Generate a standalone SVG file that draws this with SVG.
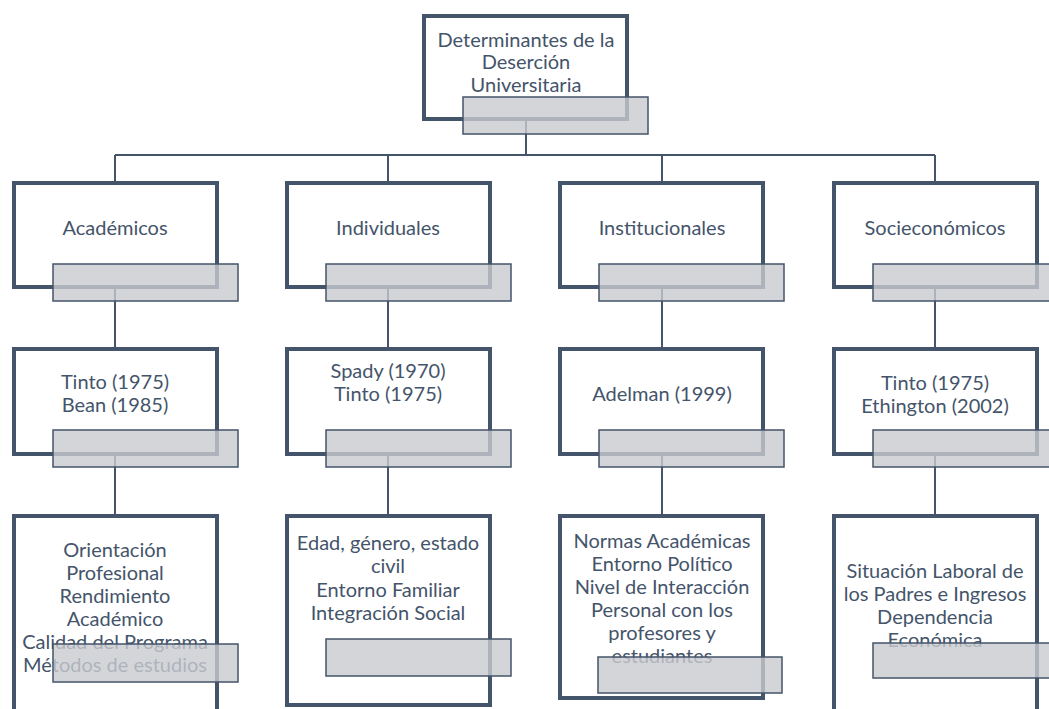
<svg xmlns="http://www.w3.org/2000/svg" width="1049" height="709" viewBox="0 0 1049 709">
<style>
.box{fill:#ffffff;stroke:#44546a;stroke-width:4}
.tab{fill:#c9cbd0;fill-opacity:0.8;stroke:#44546a;stroke-width:1.5}
.con{fill:none;stroke:#44546a;stroke-width:2}
text{font-family:Lato,"Open Sans",sans-serif;font-size:20px;fill:#44546a;text-anchor:middle}
</style>
<rect width="1049" height="709" fill="#ffffff"/>
<g id="connectors">
<path class="con" d="M526 119V155M115 155H935M115 155V183M388 155V183M662 155V183M935 155V183"/>
<path class="con" d="M115 287V349M388 287V349M662 287V349M935 287V349"/>
<path class="con" d="M115 454V516M388 454V516M662 454V516M935 454V516"/>
</g>
<g id="root">
<rect class="box" x="424" y="16" width="203" height="103"/>
<text x="526" y="47">Determinantes de la</text>
<text x="526" y="69">Deserción</text>
<text x="526" y="92">Universitaria</text>
<rect class="tab" x="463" y="97" width="185" height="37"/>
</g>
<g id="academicos">
<rect class="box" x="14" y="183" width="203" height="104"/>
<text x="115" y="235">Académicos</text>
<rect class="tab" x="53" y="264" width="185" height="37"/>
</g>
<g id="individuales">
<rect class="box" x="287" y="183" width="203" height="104"/>
<text x="388" y="235">Individuales</text>
<rect class="tab" x="326" y="264" width="185" height="37"/>
</g>
<g id="institucionales">
<rect class="box" x="560" y="183" width="203" height="104"/>
<text x="662" y="235">Institucionales</text>
<rect class="tab" x="599" y="264" width="185" height="37"/>
</g>
<g id="socioeconomicos">
<rect class="box" x="834" y="183" width="203" height="104"/>
<text x="935" y="235">Socieconómicos</text>
<rect class="tab" x="873" y="264" width="185" height="37"/>
</g>
<g id="autores-academicos">
<rect class="box" x="14" y="349" width="203" height="105"/>
<text x="115" y="389">Tinto (1975)</text>
<text x="115" y="412">Bean (1985)</text>
<rect class="tab" x="53" y="430" width="185" height="37"/>
</g>
<g id="autores-individuales">
<rect class="box" x="287" y="349" width="203" height="105"/>
<text x="388" y="378">Spady (1970)</text>
<text x="388" y="401">Tinto (1975)</text>
<rect class="tab" x="326" y="430" width="185" height="37"/>
</g>
<g id="autores-institucionales">
<rect class="box" x="560" y="349" width="203" height="105"/>
<text x="662" y="401">Adelman (1999)</text>
<rect class="tab" x="599" y="430" width="185" height="37"/>
</g>
<g id="autores-socioeconomicos">
<rect class="box" x="834" y="349" width="203" height="105"/>
<text x="935" y="390">Tinto (1975)</text>
<text x="935" y="413">Ethington (2002)</text>
<rect class="tab" x="873" y="430" width="185" height="37"/>
</g>
<g id="detalle-academicos">
<rect class="box" x="14" y="516" width="203" height="210"/>
<text x="115" y="557">Orientación</text>
<text x="115" y="580">Profesional</text>
<text x="115" y="603">Rendimiento</text>
<text x="115" y="626">Académico</text>
<text x="115" y="649">Calidad del Programa</text>
<text x="115" y="672">Métodos de estudios</text>
<rect class="tab" x="53" y="644" width="185" height="38"/>
</g>
<g id="detalle-individuales">
<rect class="box" x="287" y="516" width="203" height="189"/>
<text x="388" y="550">Edad, género, estado</text>
<text x="388" y="573">civil</text>
<text x="388" y="597">Entorno Familiar</text>
<text x="388" y="620">Integración Social</text>
<rect class="tab" x="326" y="639" width="185" height="37"/>
</g>
<g id="detalle-institucionales">
<rect class="box" x="560" y="516" width="203" height="182"/>
<text x="662" y="548">Normas Académicas</text>
<text x="662" y="571">Entorno Político</text>
<text x="662" y="594">Nivel de Interacción</text>
<text x="662" y="617">Personal con los</text>
<text x="662" y="640">profesores y</text>
<text x="662" y="663">estudiantes</text>
<rect class="tab" x="598" y="657" width="184" height="36"/>
</g>
<g id="detalle-socioeconomicos">
<rect class="box" x="834" y="516" width="203" height="210"/>
<text x="935" y="578">Situación Laboral de</text>
<text x="935" y="601">los Padres e Ingresos</text>
<text x="935" y="624">Dependencia</text>
<text x="935" y="647">Económica</text>
<rect class="tab" x="873" y="643" width="185" height="35"/>
</g>
</svg>
